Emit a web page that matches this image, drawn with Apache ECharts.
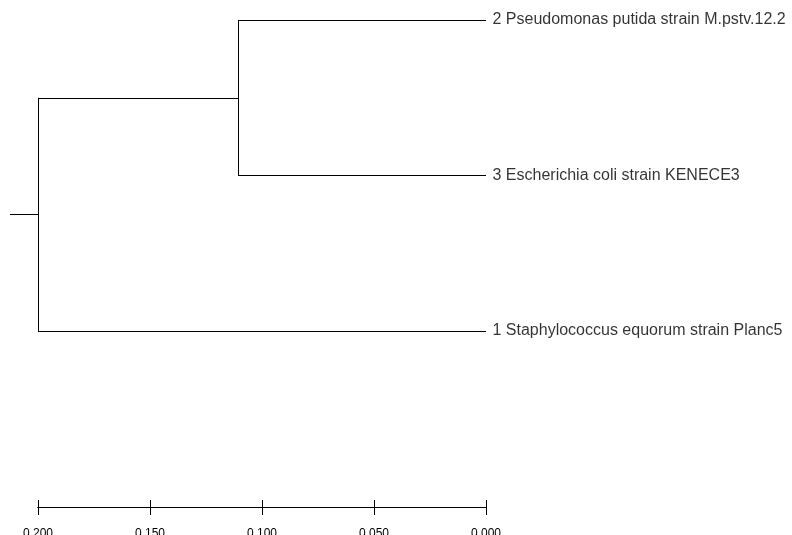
<html>
<head>
    <meta charset="utf-8" />
    <script src="https://cdn.jsdelivr.net/npm/echarts@6/dist/echarts.min.js"></script>
    <title>Dendrogram</title>
    <style>
        html, body { margin: 0; padding: 0; background: #fff; }
        #chart { width: 792px; height: 535px; }
    </style>
</head>
<body>
    <div id="chart"></div>
    <script type="text/javascript">
        // leaves, top to bottom
        var leafNames = [
            '2 Pseudomonas putida strain M.pstv.12.2',
            '3 Escherichia coli strain KENECE3',
            '1 Staphylococcus equorum strain Planc5'
        ];
        var leafHeights = [0, 0, 0];
        // cluster (2,3) joins at 0.1107, root joins it with leaf 1 at 0.200
        var innerHeight = 0.1107;
        var rootHeight = 0.200;
        var rootStub = 0.2125;
        var scaleTicks = [0.200, 0.150, 0.100, 0.050, 0.000];

        // build branch segments from the values
        var innerY = (0 + 1) / 2;
        var rootY = (innerY + 2) / 2;
        var segments = [
            [[leafHeights[0], 0], [innerHeight, 0]],
            [[leafHeights[1], 1], [innerHeight, 1]],
            [[innerHeight, 0], [innerHeight, 1]],
            [[innerHeight, innerY], [rootHeight, innerY]],
            [[leafHeights[2], 2], [rootHeight, 2]],
            [[rootHeight, innerY], [rootHeight, 2]],
            [[rootHeight, rootY], [rootStub, rootY]]
        ];
        var leafPoints = leafNames.map(function(n, i) {
            return { name: n, value: [leafHeights[i], i] };
        });

        // scale bar: same x scale as the tree, drawn in a second grid so
        // ticks can cross the line (one axis ticks outward, one inward)
        function scaleAxis(gridIndex, inside, withLabels) {
            return {
                gridIndex: gridIndex,
                type: 'value',
                min: 0,
                max: scaleTicks[0],
                interval: scaleTicks[0] - scaleTicks[1],
                inverse: true,
                position: 'bottom',
                offset: 176,
                splitLine: { show: false },
                axisLine: { show: true, onZero: false, lineStyle: { color: '#000', width: 1 } },
                axisTick: { show: true, inside: inside, length: inside ? 7 : 8, lineStyle: { color: '#000' } },
                axisLabel: {
                    show: withLabels,
                    showMinLabel: true,
                    showMaxLabel: true,
                    margin: 21,
                    fontSize: 12,
                    fontFamily: 'Liberation Sans',
                    color: '#000',
                    formatter: function(v) { return v.toFixed(3); }
                }
            };
        }

        var gridBox = {
            left: 38, right: 306, top: 20, bottom: 204,
            containLabel: false, outerBoundsMode: 'none'
        };

        var chart = echarts.init(document.getElementById('chart'));
        chart.setOption({
            animation: false,
            backgroundColor: '#fff',
            grid: [Object.assign({}, gridBox), Object.assign({}, gridBox)],
            xAxis: [scaleAxis(0, false, true), scaleAxis(1, true, false)],
            yAxis: [
                { gridIndex: 0, type: 'value', min: 0, max: 2, inverse: true, show: false },
                { gridIndex: 1, type: 'value', min: 0, max: 2, inverse: true, show: false }
            ],
            series: [{
                type: 'lines',
                coordinateSystem: 'cartesian2d',
                polyline: false,
                clip: false,
                silent: true,
                lineStyle: { color: '#000', width: 1, opacity: 1 },
                data: segments.map(function(s) { return { coords: s }; })
            }, {
                type: 'scatter',
                symbolSize: 1,
                silent: true,
                itemStyle: { color: 'rgba(0,0,0,0)' },
                label: {
                    show: true,
                    position: 'right',
                    distance: 6,
                    fontSize: 16,
                    fontFamily: 'Liberation Sans',
                    color: '#000',
                    formatter: function(p) { return p.name; }
                },
                data: leafPoints
            }]
        });
    </script>
</body>
</html>
